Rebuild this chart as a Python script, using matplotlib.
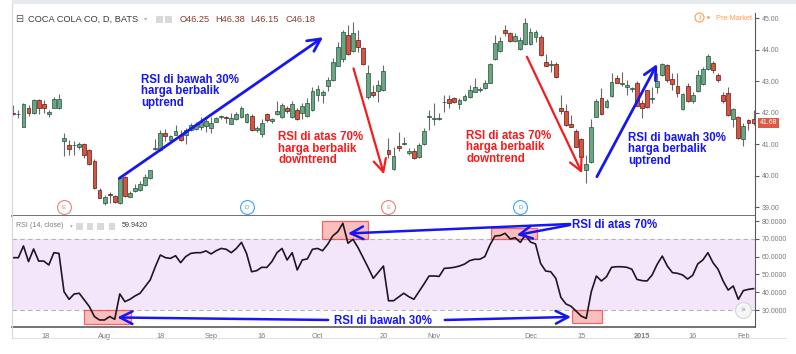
import matplotlib
matplotlib.use("Agg")
import matplotlib.pyplot as plt
from matplotlib.patches import Rectangle
from matplotlib.lines import Line2D

W, H = 796, 354

# daily candles, KO, Jul 2014 - Feb 2015
opens = [42.00, 41.95, 41.56, 42.14, 42.00, 42.41, 42.28, 41.95, 42.16, 42.14,
         41.10, 40.98, 40.97, 40.92, 41.00, 40.82, 40.47, 39.55, 39.15, 39.42,
         39.36, 39.15, 39.95, 39.34, 39.52, 39.55, 39.71, 39.92, 40.86, 40.82,
         41.37, 41.14, 41.30, 41.30, 41.30, 41.45, 41.50, 41.56, 41.58, 41.53,
         41.72, 41.86, 41.88, 41.66, 41.80, 41.88, 41.70, 41.91, 41.45, 41.32,
         41.95, 41.75, 41.96, 41.86, 42.15, 41.86, 42.09, 41.98, 41.91, 42.09,
         42.56, 42.56, 42.86, 43.04, 43.50, 43.70, 44.47, 43.95, 44.31, 44.05,
         42.50, 42.67, 42.70, 42.72, 40.82, 40.22, 40.95, 41.00, 40.71, 40.79,
         40.61, 41.00, 41.86, 41.80, 41.79, 42.33, 42.44, 42.46, 42.27, 42.40,
         42.51, 42.67, 42.71, 42.78, 42.96, 43.70, 43.97, 44.63, 44.52, 44.29,
         44.02, 44.17, 44.17, 44.40, 44.42, 43.62, 43.53, 43.54, 42.16, 42.06,
         41.66, 41.42, 41.17, 40.20, 40.45, 41.88, 42.46, 42.17, 42.53, 43.11,
         42.90, 42.81, 42.75, 42.96, 42.30, 42.72, 42.43, 42.81, 43.20, 43.52,
         43.06, 42.85, 42.11, 42.85, 42.39, 42.70, 42.91, 43.38, 43.59, 43.20,
         42.56, 42.62, 41.79, 41.86, 41.16, 41.77, 41.79]
highs = [42.25, 42.09, 42.30, 42.25, 42.43, 42.45, 42.40, 42.08, 42.50, 42.60,
         41.37, 41.14, 41.10, 41.07, 41.04, 40.84, 40.52, 39.60, 39.38, 39.47,
         39.40, 39.95, 40.00, 39.52, 39.75, 39.82, 40.07, 40.20, 41.17, 41.45,
         41.50, 41.30, 41.60, 41.45, 41.52, 41.68, 41.72, 41.88, 41.82, 41.88,
         41.88, 41.93, 41.90, 41.98, 42.04, 42.23, 42.00, 41.95, 41.58, 41.80,
         42.00, 41.85, 42.38, 42.30, 42.20, 42.38, 42.15, 42.30, 42.46, 42.82,
         42.88, 42.72, 43.15, 43.73, 44.26, 44.63, 44.79, 44.87, 44.63, 44.10,
         43.52, 42.88, 43.04, 43.52, 41.19, 40.92, 41.40, 41.24, 40.87, 40.87,
         41.03, 41.51, 42.09, 42.30, 41.98, 42.57, 42.57, 42.51, 42.48, 42.59,
         42.88, 43.12, 42.83, 43.04, 43.57, 44.47, 44.42, 44.79, 44.58, 44.52,
         44.42, 45.02, 44.70, 44.63, 44.47, 43.86, 43.68, 43.62, 42.56, 42.27,
         41.93, 41.47, 41.19, 40.66, 41.79, 42.43, 42.78, 42.43, 43.25, 43.20,
         43.30, 43.04, 42.83, 43.00, 42.41, 42.72, 42.83, 43.25, 43.59, 43.55,
         43.25, 43.25, 42.62, 42.94, 42.67, 43.36, 43.46, 43.86, 43.65, 43.27,
         42.67, 42.83, 42.14, 41.90, 41.67, 41.79, 42.09]
lows = [41.93, 41.83, 41.55, 41.90, 41.97, 41.95, 42.00, 41.88, 42.14, 42.12,
        40.63, 40.66, 40.66, 40.85, 40.57, 40.33, 39.59, 39.28, 39.07, 39.15,
        39.15, 39.10, 39.34, 39.32, 39.50, 39.53, 39.68, 39.90, 40.82, 40.80,
        41.10, 41.10, 41.28, 41.10, 41.00, 41.43, 41.45, 41.45, 41.40, 41.35,
        41.70, 41.80, 41.67, 41.64, 41.77, 41.82, 41.67, 41.42, 41.40, 41.24,
        41.70, 41.68, 41.93, 41.82, 42.00, 41.82, 41.76, 41.80, 41.88, 42.05,
        42.38, 42.30, 42.69, 43.01, 43.47, 43.60, 43.84, 43.92, 43.92, 43.52,
        42.45, 42.51, 42.33, 42.70, 40.55, 40.19, 40.79, 40.98, 40.66, 40.53,
        40.58, 40.98, 41.45, 41.61, 41.77, 42.04, 42.16, 42.30, 42.11, 42.36,
        42.46, 42.65, 42.67, 42.76, 42.94, 43.68, 43.94, 44.45, 44.26, 44.26,
        43.98, 44.15, 44.15, 44.26, 43.81, 43.47, 43.31, 43.12, 41.95, 41.59,
        41.54, 40.90, 40.55, 39.78, 40.42, 41.86, 41.93, 42.14, 42.51, 42.94,
        42.85, 42.56, 42.67, 42.20, 41.82, 42.14, 42.30, 42.62, 43.17, 42.99,
        42.72, 42.51, 42.09, 42.35, 42.30, 42.67, 42.88, 43.36, 43.25, 42.99,
        42.30, 41.90, 41.54, 41.16, 40.95, 41.46, 41.61]
closes = [41.96, 41.97, 42.28, 41.98, 42.41, 42.14, 42.14, 42.03, 42.43, 42.43,
          41.21, 40.84, 40.99, 41.00, 40.66, 40.36, 39.62, 39.30, 39.32, 39.40,
          39.18, 39.92, 39.36, 39.46, 39.60, 39.73, 39.97, 40.18, 40.88, 41.35,
          41.26, 41.26, 41.43, 41.14, 41.45, 41.61, 41.61, 41.72, 41.74, 41.69,
          41.83, 41.90, 41.85, 41.83, 41.95, 42.16, 41.97, 41.45, 41.53, 41.67,
          41.77, 41.80, 42.06, 42.25, 42.05, 42.27, 41.79, 42.23, 42.30, 42.69,
          42.76, 42.67, 43.04, 43.62, 44.10, 44.57, 43.87, 44.53, 44.10, 43.55,
          43.26, 42.56, 42.88, 43.34, 40.68, 40.64, 40.87, 41.05, 40.79, 40.58,
          40.98, 41.42, 41.91, 41.84, 41.82, 42.35, 42.30, 42.33, 42.40, 42.54,
          42.71, 42.82, 42.76, 42.95, 43.54, 44.23, 44.28, 44.52, 44.29, 44.45,
          44.31, 44.84, 44.58, 44.55, 43.84, 43.50, 43.55, 43.15, 42.06, 41.61,
          41.56, 40.92, 40.59, 40.39, 41.54, 42.39, 41.96, 42.37, 42.99, 42.96,
          42.95, 42.88, 42.78, 42.22, 42.16, 42.19, 42.48, 43.01, 43.55, 43.04,
          42.93, 42.64, 42.59, 42.39, 42.56, 43.20, 43.38, 43.80, 43.36, 43.04,
          42.39, 41.93, 42.11, 41.19, 41.58, 41.67, 41.69]
rsi = [59.4, 59.4, 66.0, 57.2, 64.3, 57.5, 57.5, 55.3, 62.2, 61.8,
       40.3, 36.0, 39.0, 39.4, 35.6, 31.9, 26.3, 24.4, 24.4, 26.3,
       24.8, 39.0, 34.7, 36.0, 37.9, 39.4, 43.1, 46.9, 54.3, 60.9,
       59.4, 59.0, 60.5, 56.6, 60.0, 61.8, 62.2, 62.2, 63.2, 61.5,
       63.3, 64.6, 64.1, 62.2, 64.6, 68.0, 61.8, 51.5, 52.1, 54.0,
       53.9, 57.2, 62.2, 64.6, 58.1, 62.2, 52.5, 58.1, 58.7, 64.1,
       64.6, 63.3, 66.9, 71.6, 74.0, 78.7, 67.5, 69.7, 65.0, 59.4,
       53.8, 47.8, 51.2, 54.7, 35.2, 35.2, 37.3, 39.4, 37.5, 36.0,
       40.3, 44.6, 49.1, 49.1, 48.9, 53.4, 53.6, 54.0, 54.7, 55.8,
       57.7, 58.5, 58.5, 60.0, 66.5, 71.6, 71.8, 73.1, 69.9, 70.6,
       68.0, 72.1, 68.2, 67.1, 56.2, 51.9, 51.5, 47.8, 37.1, 33.4,
       32.1, 29.4, 26.6, 25.3, 40.3, 49.1, 46.3, 48.7, 54.0, 54.3,
       54.3, 54.0, 52.9, 47.2, 46.5, 46.3, 49.7, 55.7, 60.3, 54.7,
       51.0, 50.6, 49.7, 47.4, 49.5, 55.9, 58.1, 62.2, 56.6, 52.9,
       46.3, 41.2, 43.5, 36.0, 40.9, 41.6, 42.0]

tick_pos = [6.3, 18, 29, 39, 49, 60, 73, 83, 102, 112, 124, 134, 144]
tick_labels = ["18", "Aug", "18", "Sep", "16", "Oct", "20", "Nov", "Dec",
               "15", "2015", "16", "Feb"]
price_ticks = [39, 40, 41, 42, 43, 44, 45]
rsi_ticks = [30, 40, 50, 60, 70, 80]
last_price = 41.68
events = [(10, "E"), (46, "D"), (74, "E"), (100, "D")]

UP, DOWN = "#6ba583", "#d75442"
UP_EDGE, DOWN_EDGE = "#225437", "#5b1a13"
WICK = "#6a6a6c"
BLUE = "#1616f2"
RED = "#f41c1c"
AXC = "#5a5a5a"
LBL = "#7a7a7a"

plt.rcParams["font.family"] = ["Liberation Sans", "DejaVu Sans"]

fig = plt.figure(figsize=(W / 100, H / 100), dpi=100)
ax = fig.add_axes([12 / W, 1 - 216 / H, 743 / W, 203 / H])
ax2 = fig.add_axes([12 / W, 1 - 327 / H, 743 / W, 111 / H], sharex=ax)

# candles
for i, (o, h, l, c) in enumerate(zip(opens, highs, lows, closes)):
    up = c >= o
    ax.vlines(i, l, h, color=WICK, lw=0.8, zorder=2)
    ax.add_patch(Rectangle((i - 0.38, min(o, c)), 0.76, max(abs(c - o), 0.012),
                           facecolor=UP if up else DOWN,
                           edgecolor=UP_EDGE if up else DOWN_EDGE,
                           lw=0.5, zorder=3))

ax.set_xlim(-0.26, 146.29)
ax.set_ylim(38.724, 45.168)
ax2.set_ylim(20.45, 82.81)

for a in (ax, ax2):
    a.spines["top"].set_visible(False)
    a.spines["left"].set_color("#d8d8d8")
    a.spines["right"].set_color(AXC)
    a.spines["bottom"].set_color(AXC)
    a.spines["bottom"].set_linewidth(1.2)
    a.yaxis.tick_right()
    a.tick_params(axis="y", length=3, color=AXC, labelsize=5,
                  labelcolor=LBL, pad=2)
    a.set_facecolor("white")

ax.set_yticks(price_ticks, [f"{v:.2f}" for v in price_ticks])
ax.tick_params(axis="x", bottom=False, labelbottom=False)
ax2.set_yticks(rsi_ticks, [f"{v:.4f}" for v in rsi_ticks])
ax2.set_xticks(tick_pos, tick_labels)
ax2.tick_params(axis="x", length=0, labelsize=5.3, labelcolor=LBL, pad=4)
for t in ax2.get_xticklabels():
    if t.get_text() == "2015":
        t.set_fontweight("bold")

# last price tag
ax.annotate(f"{last_price:.2f}", xy=(1, last_price),
            xycoords=("axes fraction", "data"), xytext=(3.5, 0),
            textcoords="offset points", va="center", ha="left",
            fontsize=5, color="white",
            bbox=dict(boxstyle="square,pad=0.25", fc="#dc5a46", ec="none"))

# earnings / dividend markers
for ix, s in events:
    col = "#f27c7c" if s == "E" else "#3ca6f2"
    ax.plot(ix, 39.0, "o", ms=10, mfc="white", mec=col, mew=0.8, zorder=4)
    ax.text(ix, 39.0, s, color=col, fontsize=4.5, ha="center", va="center",
            zorder=5)

# RSI pane
x = list(range(len(rsi)))
ax2.axhspan(30, 70, color="#f3e6fb", zorder=0, lw=0)
for lv in (70, 30):
    ax2.axhline(lv, color="#b4b4b4", lw=0.8, ls=(0, (4, 3)), zorder=1)
ax2.plot(x, rsi, color="#1d1624", lw=1.2, zorder=3)
ax2.plot(143.9, 30, "o", ms=11.5, mfc="#f5f5f5", mec="#d6d6d6", mew=0.8,
         zorder=4)
ax2.text(143.9, 30, "»", color="#9a9a9a", fontsize=6, ha="center",
         va="center", zorder=5, family="DejaVu Sans")


# header texts
def ftext(px, py, s, **kw):
    fig.text(px / W, 1 - py / H, s, va="center", **kw)


ftext(15.5, 19, "⊟", fontsize=7, color="#555555", family="DejaVu Sans")
ftext(27.7, 19, "COCA COLA CO, D, BATS", fontsize=6.7, color="#3a3a3a")
ftext(144, 19, "▾", fontsize=4.5, color="#b0b0b0", family="DejaVu Sans")
for x0 in (156, 165):
    fig.add_artist(Rectangle((x0 / W, 1 - 22.5 / H), 7 / W, 7 / H,
                             transform=fig.transFigure, fc="#d9d9d9",
                             ec="none"))
for px, s in zip((179.3, 215, 250.7, 285),
                 ("O46.25", "H46.38", "L46.15", "C46.18")):
    ftext(px, 19, s, fontsize=6.7, color="#8a3b33")

ftext(698, 18.5, "!", fontsize=5, color="#ff9a55", fontweight="bold")
ax.plot(0.924, 0.978, "o", ms=6.5, mfc="none", mec="#ff9a55", mew=0.8,
        transform=ax.transAxes, clip_on=False)
ax.plot(0.9365, 0.978, "o", ms=2, mfc="#ff9a55", mec="none",
        transform=ax.transAxes, clip_on=False)
ftext(715.7, 18.5, "Pre Market", fontsize=5.3, color="#ff9a55")

ftext(15.7, 225.7, "RSI (14, close)", fontsize=5.1, color=LBL)
ftext(69.5, 225.7, "▾", fontsize=4, color="#b0b0b0", family="DejaVu Sans")
for x0 in (76, 86.5, 97, 108.5):
    fig.add_artist(Rectangle((x0 / W, 1 - 229.5 / H), 6.5 / W, 7 / H,
                             transform=fig.transFigure, fc="#d9d9d9",
                             ec="none"))
ftext(121.7, 225.7, "59.9420", fontsize=5.1, color="#3a3a3a")

# frame
fig.add_artist(Rectangle((12 / W, 1 - 4 / H), 1 - 12 / W, 4 / H,
                         transform=fig.transFigure, fc="#e6e9ed", ec="none"))
fig.add_artist(Line2D([12 / W, 12 / W], [1 - 338 / H, 1 - 4 / H],
                      transform=fig.transFigure, color="#d8d8d8", lw=0.8))
fig.add_artist(Line2D([12 / W, 786 / W], [1 - 338 / H, 1 - 338 / H],
                      transform=fig.transFigure, color="#e2e2e2", lw=0.8))

# annotations
ann = dict(fontsize=8.3, fontweight="bold", family="Liberation Sans")


def note(a, xi, ytop, lines, col):
    a.text(xi, ytop, "\n".join(lines), color=col, va="top", ha="left",
           linespacing=0.93, zorder=6, **ann)


def arrow(a, xy0, xy1, col, lw):
    a.annotate("", xy=xy1, xytext=xy0,
               arrowprops=dict(arrowstyle="->,head_length=0.75,head_width=0.38",
                               color=col, lw=lw, shrinkA=0, shrinkB=0,
                               mutation_scale=12), zorder=6)


up_txt = ["RSI di bawah 30%", "harga berbalik", "uptrend"]
dn_txt = ["RSI di atas 70%", "harga berbalik", "downtrend"]
note(ax, 25.2, 43.23, up_txt, BLUE)
note(ax, 52.3, 41.41, dn_txt, RED)
note(ax, 89.3, 41.45, dn_txt, RED)
note(ax, 121.3, 41.39, up_txt, BLUE)
arrow(ax, (20.9, 39.92), (61.1, 44.40), BLUE, 2.0)
arrow(ax, (67.1, 43.41), (73.1, 40.05), RED, 1.6)
arrow(ax, (101.3, 43.78), (112.2, 40.08), RED, 1.6)
arrow(ax, (115.1, 39.97), (127.0, 43.55), BLUE, 2.0)

for x0, x1, y0, y1 in ((14.0, 23.2, 22.0, 30), (60.9, 70.0, 70, 80.2),
                       (94.2, 103.2, 70, 76), (110.1, 116.1, 22.5, 30)):
    ax2.add_patch(Rectangle((x0, y0), x1 - x0, y1 - y0, fc="#f7a8a8",
                            ec="#f03c3c", lw=0.9, alpha=0.75, zorder=2))
ax2.text(63.3, 22.1, "RSI di bawah 30%", color=BLUE, va="baseline",
         ha="left", zorder=6, **ann)
ax2.text(110.1, 75.8, "RSI di atas 70%", color=BLUE, va="baseline",
         ha="left", zorder=6, **ann)
arrow(ax2, (62.1, 24.4), (20.5, 25.8), BLUE, 1.8)
arrow(ax2, (85.1, 24.4), (110.0, 26.1), BLUE, 1.8)
arrow(ax2, (109.8, 78.3), (66.0, 73.0), BLUE, 1.8)
arrow(ax2, (109.8, 77.75), (99.3, 72.1), BLUE, 1.8)

fig.savefig("out.png", dpi=100, facecolor="white")
